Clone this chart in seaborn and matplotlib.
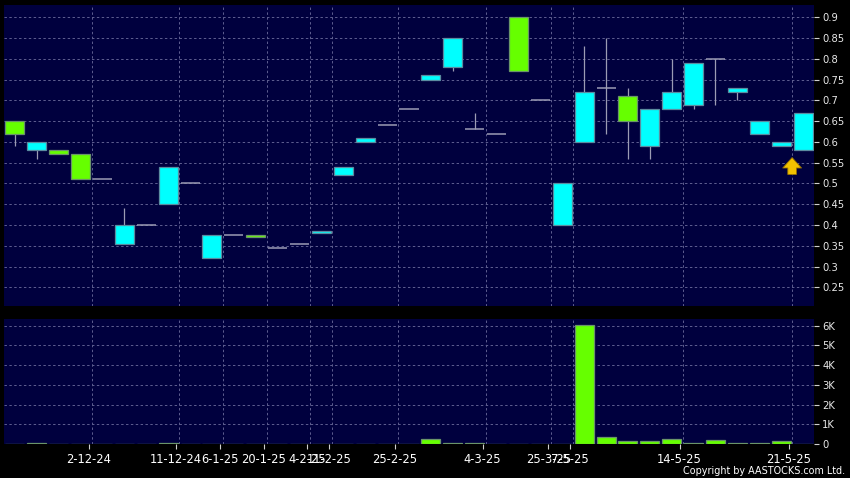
"""
Weekly-style candlestick + volume chart, AASTOCKS look
"""

import numpy as np
import matplotlib
matplotlib.use("Agg")
import matplotlib.pyplot as plt
import seaborn as sns

# price data, one entry per slot
opens = [0.65, 0.58, 0.58, 0.57, 0.51, 0.355, 0.40, 0.45, 0.50, 0.32,
         0.375, 0.375, 0.345, 0.355, 0.38, 0.52, 0.60, 0.64, 0.68, 0.75,
         0.78, 0.63, 0.62, 0.90, 0.70, 0.40, 0.60, 0.73, 0.71, 0.59,
         0.68, 0.69, 0.80, 0.72, 0.62, 0.59, 0.58]
closes = [0.62, 0.60, 0.57, 0.51, 0.51, 0.40, 0.40, 0.54, 0.50, 0.375,
          0.375, 0.37, 0.345, 0.355, 0.385, 0.54, 0.61, 0.64, 0.68, 0.76,
          0.85, 0.63, 0.62, 0.77, 0.70, 0.50, 0.72, 0.73, 0.65, 0.68,
          0.72, 0.79, 0.80, 0.73, 0.65, 0.60, 0.67]
highs = [0.65, 0.60, 0.58, 0.57, 0.51, 0.44, 0.40, 0.54, 0.50, 0.375,
         0.375, 0.375, 0.345, 0.355, 0.385, 0.54, 0.61, 0.64, 0.68, 0.76,
         0.85, 0.67, 0.62, 0.90, 0.70, 0.50, 0.83, 0.85, 0.73, 0.68,
         0.80, 0.79, 0.80, 0.73, 0.65, 0.60, 0.67]
lows = [0.59, 0.56, 0.57, 0.51, 0.51, 0.355, 0.40, 0.45, 0.50, 0.32,
        0.375, 0.37, 0.345, 0.355, 0.38, 0.52, 0.60, 0.64, 0.68, 0.75,
        0.77, 0.63, 0.62, 0.77, 0.70, 0.40, 0.60, 0.62, 0.56, 0.56,
        0.68, 0.68, 0.69, 0.70, 0.62, 0.59, 0.58]
volumes = [0, 50, 0, 10, 0, 0, 0, 50, 0, 15,
           10, 15, 0, 0, 0, 0, 15, 0, 0, 230,
           60, 60, 0, 0, 0, 0, 6050, 370, 150, 170,
           230, 60, 180, 60, 30, 140, 0]

# x tick labels sit on the boundary before the labelled slot
tick_slots = [4, 8, 10, 12, 14, 15, 18, 22, 25, 26, 31, 36]
tick_labels = ["2-12-24", "11-12-24", "6-1-25", "20-1-25", "4-2-25", "11-2-25",
               "25-2-25", "4-3-25", "25-3-25", "7-5-25", "14-5-25", "21-5-25"]

price_ticks = [0.25, 0.3, 0.35, 0.4, 0.45, 0.5, 0.55, 0.6, 0.65, 0.7, 0.75, 0.8, 0.85, 0.9]
price_labels = ["0.25", "0.3", "0.35", "0.4", "0.45", "0.5", "0.55", "0.6", "0.65",
                "0.7", "0.75", "0.8", "0.85", "0.9"]
vol_ticks = [0, 1000, 2000, 3000, 4000, 5000, 6000]
vol_labels = ["0", "1K", "2K", "3K", "4K", "5K", "6K"]

BG = "#00003e"
GRID = "#5e5e90"
UP = "#00ffff"
UP_EDGE = "#5a8ca0"
DOWN = "#66ff00"
DOWN_EDGE = "#6a946a"
WICK = "#9c9cb4"
TXT = "#ffffff"
DASH = (0, (2.5, 2.5))

sns.set_theme(style="dark", rc={
    "axes.facecolor": BG,
    "figure.facecolor": "black",
    "axes.edgecolor": BG,
    "xtick.color": "#d0d0d0",
    "ytick.color": "#d0d0d0",
})
plt.rcParams["font.family"] = ["DejaVu Sans"]

o = np.array(opens)
c = np.array(closes)
h = np.array(highs)
l = np.array(lows)
x = np.arange(len(o))
n = len(o)
w = 0.87

fig = plt.figure(figsize=(8.5, 4.78), dpi=100)
ax = fig.add_axes([4 / 850, 1 - 306 / 478, 810 / 850, 301 / 478])
ax2 = fig.add_axes([4 / 850, 1 - 444 / 478, 810 / 850, 125 / 478])

grid_x = [s - 0.5 for s in tick_slots]

# grid
for a in (ax, ax2):
    for gx in grid_x:
        a.axvline(gx, color=GRID, lw=0.7, ls=DASH, zorder=0)
for p in price_ticks:
    ax.axhline(p, color=GRID, lw=0.7, ls=DASH, zorder=0)
for v in vol_ticks[1:]:
    ax2.axhline(v, color=GRID, lw=0.7, ls=DASH, zorder=0)

# wicks
ax.vlines(x, l, h, color=WICK, lw=0.9, zorder=1)

# bodies
doji = o == c
up = c > o
body_x = x[~doji]
bottoms = np.minimum(o, c)[~doji]
heights = np.abs(c - o)[~doji]
fills = np.where(up[~doji], UP, DOWN)
edges = np.where(up[~doji], UP_EDGE, DOWN_EDGE)
ax.bar(body_x, heights, bottom=bottoms, width=w, color=fills,
       edgecolor=edges, linewidth=0.9, zorder=2)
ax.hlines(o[doji], x[doji] - w / 2, x[doji] + w / 2, color=WICK, lw=1.1, zorder=2)

# marker arrow under the last sessions
ax.annotate("", xy=(n - 1.5, 0.569), xytext=(n - 1.5, 0.515),
            arrowprops=dict(arrowstyle="simple,head_length=0.75,head_width=1.35,tail_width=0.62",
                            fc="#f2c200", ec="#9a7400", lw=0.6, mutation_scale=10),
            zorder=5)

ax.set_xlim(-0.5, n - 0.5)
ax.set_ylim(0.205, 0.9296)
ax.yaxis.tick_right()
ax.set_yticks(price_ticks)
ax.set_yticklabels(price_labels)
ax.set_xticks([])
ax.tick_params(axis="y", length=3.5, width=0.8, pad=2.5, labelsize=7.2,
               labelcolor="#e8e8e8", right=True, left=False)
ax.grid(False)

# volume
sns.barplot(x=x, y=volumes, ax=ax2, color=DOWN, saturation=1, width=w,
            edgecolor=DOWN_EDGE, linewidth=0.9, zorder=2)
ax2.set_xlim(-0.5, n - 0.5)
ax2.set_ylim(0, 6340)
ax2.yaxis.tick_right()
ax2.set_yticks(vol_ticks)
ax2.set_yticklabels(vol_labels)
ax2.set_xticks([g - 0.14 for g in grid_x])
ax2.set_xticklabels(tick_labels)
ax2.tick_params(axis="y", length=3.5, width=0.8, pad=2.5, labelsize=7.2,
                labelcolor="#e8e8e8", right=True, left=False)
ax2.tick_params(axis="x", length=3.5, width=0.8, pad=3, labelsize=8.3,
                labelcolor=TXT, bottom=True)
ax2.set_xlabel("")
ax2.set_ylabel("")
ax2.grid(False)

for a in (ax, ax2):
    for s in a.spines.values():
        s.set_visible(False)

fig.text(845 / 850, 1 - 471 / 478, "Copyright by AASTOCKS.com Ltd.", color=TXT,
         fontsize=6.9, ha="right", va="center")

fig.savefig("out.png", dpi=100, facecolor="black")
